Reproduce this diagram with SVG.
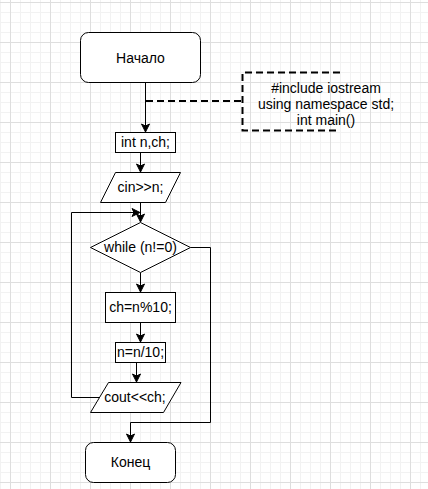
<svg xmlns="http://www.w3.org/2000/svg" width="428" height="489" viewBox="0 0 428 489">
<style>
.s{fill:#ffffff;stroke:#000000;stroke-width:1}
.t{font-family:"Liberation Sans",Arial,sans-serif;font-size:14px;fill:#000000;text-anchor:middle}
.c{fill:none;stroke:#000000;stroke-width:1}
.d{fill:none;stroke:#000000;stroke-width:2;stroke-dasharray:7 4}
</style>
<defs>
<pattern id="gmin" patternUnits="userSpaceOnUse" x="0" y="2" width="10" height="10">
<path d="M0.5,0 V10 M0,0.5 H10" fill="none" stroke="#f2f2f2" stroke-width="1"/>
</pattern>
<pattern id="gmaj" patternUnits="userSpaceOnUse" x="10" y="2" width="40" height="40">
<path d="M0.5,0 V40 M0,0.5 H40" fill="none" stroke="#dedede" stroke-width="1"/>
</pattern>
<marker id="ah" markerUnits="userSpaceOnUse" markerWidth="10" markerHeight="10" refX="9" refY="4.5" orient="auto">
<path d="M1,0.5 L9,4.5 L1,8.5 L3,4.5 Z" fill="#000000" stroke="#000000" stroke-width="1"/>
</marker>
</defs>
<rect x="0" y="0" width="428" height="489" fill="#ffffff"/>
<rect x="0" y="0" width="428" height="489" fill="url(#gmin)"/>
<rect x="0" y="0" width="428" height="489" fill="url(#gmaj)"/>

<g id="connectors">
<path class="c" d="M145.5,82.5 V132" marker-end="url(#ah)"/>
<path class="d" d="M146,101 H242"/>
<path class="c" d="M140.5,152.5 V172" marker-end="url(#ah)"/>
<path class="c" d="M140.5,202.5 V222" marker-end="url(#ah)"/>
<path class="c" d="M100,397.5 H71.5 V212.5 H140" marker-end="url(#ah)"/>
<path class="c" d="M140.5,272.5 V292" marker-end="url(#ah)"/>
<path class="c" d="M140.5,322.5 V342" marker-end="url(#ah)"/>
<path class="c" d="M136.5,362.5 V382" marker-end="url(#ah)"/>
<path class="c" d="M190.5,247.5 H210.5 V422.5 H130.5 V442" marker-end="url(#ah)"/>
</g>

<g id="start">
<rect class="s" x="80.5" y="32.5" width="120" height="50" rx="8" ry="8"/>
<text class="t" x="140.5" y="63">Начало</text>
</g>

<g id="note">
<path class="d" d="M340,72.5 H242.5 V130.5 H340"/>
<text class="t" x="326" y="92.5">#include iostream</text>
<text class="t" x="326" y="108.5">using namespace std;</text>
<text class="t" x="326" y="124.5">int main()</text>
</g>

<g id="decl">
<rect class="s" x="115.5" y="132.5" width="60" height="20"/>
<text class="t" x="145.5" y="147">int n,ch;</text>
</g>

<g id="input">
<polygon class="s" points="115.5,172.5 180.5,172.5 165.5,202.5 100.5,202.5"/>
<text class="t" x="140.5" y="192">cin&gt;&gt;n;</text>
</g>

<g id="cond">
<polygon class="s" points="140.5,222.5 190.5,247.5 140.5,272.5 90.5,247.5"/>
<text class="t" x="140.5" y="252">while (n!=0)</text>
</g>

<g id="mod">
<rect class="s" x="105.5" y="292.5" width="70" height="30"/>
<text class="t" x="140.5" y="312">ch=n%10;</text>
</g>

<g id="div">
<rect class="s" x="115.5" y="342.5" width="50" height="20"/>
<text class="t" x="140.5" y="357">n=n/10;</text>
</g>

<g id="output">
<polygon class="s" points="108.5,382.5 181,382.5 163.5,412.5 90.5,412.5"/>
<text class="t" x="135" y="402">cout&lt;&lt;ch;</text>
</g>

<g id="end">
<rect class="s" x="85.5" y="442.5" width="90" height="40" rx="8" ry="8"/>
<text class="t" x="130.5" y="467">Конец</text>
</g>
</svg>
